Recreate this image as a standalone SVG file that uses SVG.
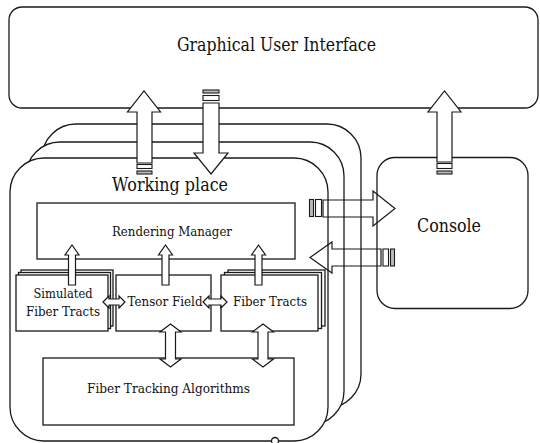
<svg xmlns="http://www.w3.org/2000/svg" width="540" height="443" viewBox="0 0 540 443">
  <style>
    .box { fill: #fff; stroke: #1a1a1a; stroke-width: 1.3; }
    .arrow { fill: #fff; stroke: #1a1a1a; stroke-width: 1.2; stroke-linejoin: miter; }
    .open { fill: none; stroke: #1a1a1a; stroke-width: 1.2; }
    .stripe { fill: #fff; stroke: #1a1a1a; stroke-width: 1.1; }
    .thin { fill: #bbb; stroke: #1a1a1a; stroke-width: 1.1; }
    .lbl { font-family: 'DejaVu Serif', 'Liberation Serif', serif; fill: #111; text-anchor: middle; }
    .big { font-size: 18px; }
    .small { font-size: 13.5px; }
  </style>
  <rect width="540" height="443" fill="#fff"/>

  <g id="gui">
    <rect class="box" x="9" y="7" width="529" height="101" rx="13"/>
    <text class="lbl big" x="276.5" y="51" textLength="199" lengthAdjust="spacingAndGlyphs">Graphical User Interface</text>
  </g>

  <g id="console">
    <rect class="box" x="377" y="157.5" width="151" height="151" rx="18"/>
    <text class="lbl big" x="449" y="232" textLength="64" lengthAdjust="spacingAndGlyphs">Console</text>
  </g>

  <g id="working-place">
    <rect class="box" x="42" y="124" width="319" height="284" rx="34"/>
    <rect class="box" x="26" y="142" width="318" height="283" rx="34"/>
    <rect class="box" x="10" y="158" width="318" height="283" rx="34"/>
    <circle class="box" cx="275" cy="441" r="3.5"/>
    <text class="lbl big" x="170" y="191" textLength="116" lengthAdjust="spacingAndGlyphs">Working place</text>
  </g>

  <g id="rendering-manager">
    <rect class="box" x="37" y="203" width="258" height="56"/>
    <text class="lbl small" x="172" y="236" textLength="120" lengthAdjust="spacingAndGlyphs">Rendering Manager</text>
  </g>

  <g id="simulated-fiber-tracts">
    <rect class="box" x="21" y="270" width="92" height="56"/>
    <rect class="box" x="18.5" y="272.5" width="92" height="56"/>
    <rect class="box" x="16" y="275" width="92" height="56"/>
    <text class="lbl small" x="63" y="298" textLength="59" lengthAdjust="spacingAndGlyphs">Simulated</text>
    <text class="lbl small" x="63" y="316" textLength="74" lengthAdjust="spacingAndGlyphs">Fiber Tracts</text>
  </g>

  <g id="tensor-field">
    <rect class="box" x="116" y="275" width="95" height="56"/>
    <text class="lbl small" x="165" y="306" textLength="75" lengthAdjust="spacingAndGlyphs">Tensor Field</text>
  </g>

  <g id="fiber-tracts">
    <rect class="box" x="228" y="270" width="97" height="56"/>
    <rect class="box" x="224.5" y="272.5" width="97" height="56"/>
    <rect class="box" x="221" y="275" width="97" height="56"/>
    <text class="lbl small" x="270" y="306" textLength="74" lengthAdjust="spacingAndGlyphs">Fiber Tracts</text>
  </g>

  <g id="fiber-tracking-algorithms">
    <rect class="box" x="43" y="358" width="251" height="67"/>
    <text class="lbl small" x="168.5" y="393" textLength="163" lengthAdjust="spacingAndGlyphs">Fiber Tracking Algorithms</text>
  </g>

  <g id="connectors">
    <!-- data sources up into the rendering manager -->
    <polygon class="arrow" points="68.5,285 68.5,255 65,255 72,245 79,255 75.5,255 75.5,285"/>
    <polygon class="arrow" points="162,285 162,255 158.5,255 165.5,245 172.5,255 169,255 169,285"/>
    <polygon class="arrow" points="255,285 255,255 251.5,255 258.5,245 265.5,255 262,255 262,285"/>

    <!-- two-way links between neighbouring data boxes -->
    <polygon class="arrow" points="103,302 109,296 109,299 119,299 119,296 125,302 119,308 119,305 109,305 109,308"/>
    <polygon class="arrow" points="203,302 209,296 209,299 221,299 221,296 227,302 221,308 221,305 209,305 209,308"/>

    <!-- two-way links to the tracking algorithms -->
    <polygon class="arrow" points="170.5,324 181,332 175.5,332 175.5,359 181,359 170.5,367 160,359 165.5,359 165.5,332 160,332"/>
    <polygon class="arrow" points="263,324 273.5,332 268,332 268,359 273.5,359 263,367 252.5,359 258,359 258,332 252.5,332"/>

    <!-- working place -> GUI -->
    <polygon class="arrow" points="137,163 137,112 127.5,112 144,91 160.5,112 152,112 152,163"/>
    <rect class="stripe" x="137" y="164.5" width="15" height="4"/>
    <rect class="thin" x="137" y="171" width="15" height="3"/>

    <!-- GUI -> working place -->
    <rect class="thin" x="203" y="90" width="16" height="3"/>
    <rect class="stripe" x="203" y="95.5" width="16" height="5"/>
    <polygon class="arrow" points="203,103 219,103 219,153 228,153 211,174 194,153 203,153"/>

    <!-- console -> GUI -->
    <polygon class="arrow" points="437,162 437,112 428,112 444.5,91 461,112 452,112 452,162"/>
    <rect class="stripe" x="437" y="163.5" width="15" height="5"/>
    <rect class="thin" x="437" y="171" width="15" height="3"/>

    <!-- working place -> console -->
    <rect class="thin" x="309.5" y="199.5" width="4" height="17"/>
    <rect class="stripe" x="315.5" y="199.5" width="6" height="17"/>
    <polygon class="open" points="323,200 373,200 373,191 395,208.5 373,226 373,217 323,217"/>

    <!-- console -> working place -->
    <polygon class="open" points="381,249 332,249 332,242 310,257.5 332,273 332,266 381,266"/>
    <rect class="stripe" x="383" y="249" width="5.5" height="17"/>
    <rect class="thin" x="390.5" y="249" width="4" height="17"/>
  </g>
</svg>
